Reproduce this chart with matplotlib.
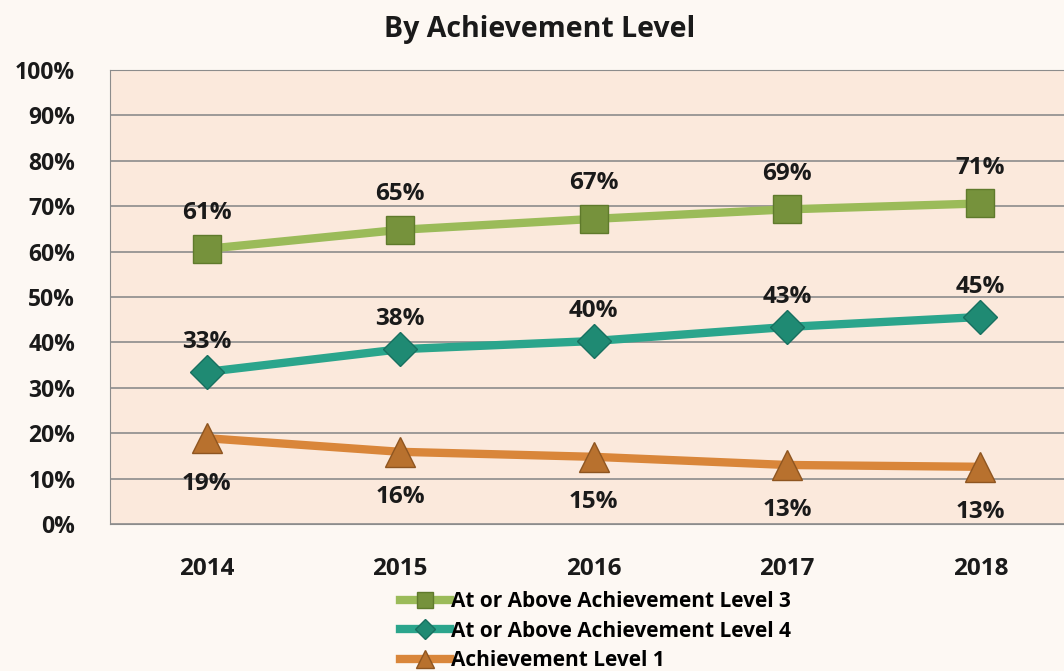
import matplotlib.pyplot as plt
import numpy as np

years = ['2014', '2015', '2016', '2017', '2018']
level3 = [60.6, 64.8, 67.2, 69.3, 70.6]
level4 = [33.5, 38.5, 40.3, 43.4, 45.6]
level1 = [18.9, 15.9, 14.8, 13.0, 12.6]
labels3 = ['61%', '65%', '67%', '69%', '71%']
labels4 = ['33%', '38%', '40%', '43%', '45%']
labels1 = ['19%', '16%', '15%', '13%', '13%']

plt.rcParams['font.family'] = ['Open Sans', 'DejaVu Sans']
plt.rcParams['font.weight'] = 'bold'

fig = plt.figure(figsize=(10.64, 6.71), dpi=100, facecolor='#fdf8f3')
ax = fig.add_axes([110 / 1064, 1 - 524 / 671, 967 / 1064, 454 / 671])
ax.set_facecolor('#fbe9dc')

x = np.arange(len(years))

# gridlines
ax.set_ylim(0, 100)
ax.set_xlim(-0.5, 4.5)
ax.set_yticks(range(0, 101, 10))
ax.set_yticklabels([f'{v}%' for v in range(0, 101, 10)])
ax.yaxis.grid(True, color='#8c8c8c', lw=1.2)
ax.set_axisbelow(True)
for s in ax.spines.values():
    s.set_color('#8c8c8c')
ax.set_xticks(x)
ax.set_xticklabels(years)
ax.tick_params(axis='y', length=0, labelsize=16.5, pad=25, labelcolor='#1a1a1a')
ax.tick_params(axis='x', length=0, labelsize=17.5, pad=24, labelcolor='#1a1a1a')

ax.plot(x, level3, color='#9bbb59', lw=6, marker='s', ms=20,
        mfc='#76923c', mec='#5f7a2c', mew=1, label='At or Above Achievement Level 3', zorder=3)
ax.plot(x, level4, color='#2ba58c', lw=6, marker='D', ms=17,
        mfc='#1f8a73', mec='#177060', mew=1, label='At or Above Achievement Level 4', zorder=3)
ax.plot(x, level1, color='#d9863a', lw=6, marker='^', ms=22,
        mfc='#b8712e', mec='#8e5520', mew=1, label='Achievement Level 1', zorder=3)

for i in range(len(years)):
    ax.annotate(labels3[i], (x[i], level3[i]), xytext=(0, 17), textcoords='offset points',
                ha='center', va='bottom', fontsize=17.5, fontweight='bold', color='#1a1a1a')
    ax.annotate(labels4[i], (x[i], level4[i]), xytext=(0, 13), textcoords='offset points',
                ha='center', va='bottom', fontsize=17.5, fontweight='bold', color='#1a1a1a')
    ax.annotate(labels1[i], (x[i], level1[i]), xytext=(0, -24), textcoords='offset points',
                ha='center', va='top', fontsize=17.5, fontweight='bold', color='#1a1a1a')

fig.text(540 / 1064, 1 - 30 / 671, 'By Achievement Level', ha='center', va='center',
         fontsize=20.5, fontweight='bold', color='#1a1a1a')

leg = fig.legend(loc='upper left', bbox_to_anchor=(392 / 1064, 1 - 583 / 671),
                 frameon=False, fontsize=15, handlelength=2.4, labelspacing=0.4,
                 handletextpad=0.05, borderaxespad=0, markerscale=0.6)

fig.savefig('out.png', dpi=100, facecolor=fig.get_facecolor())
